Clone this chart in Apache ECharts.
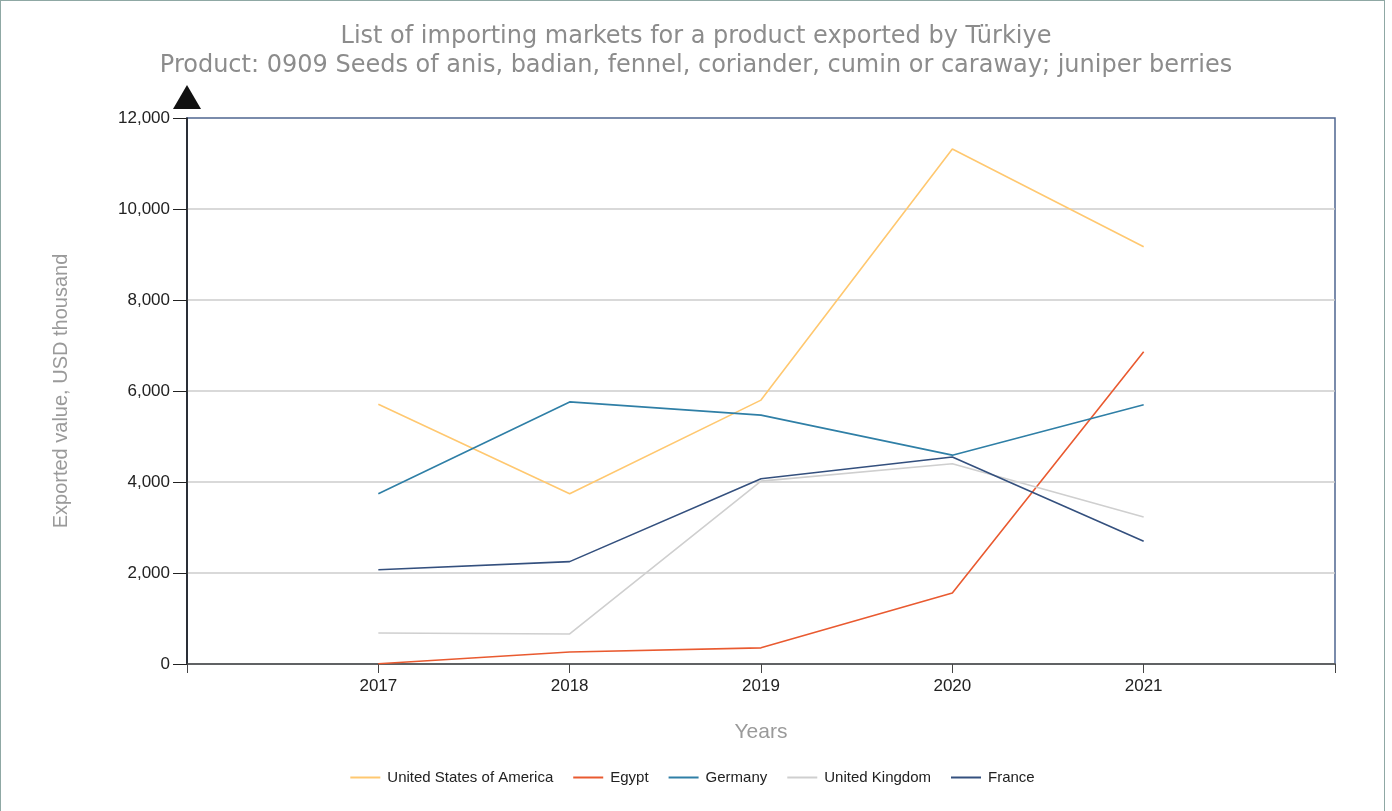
<!DOCTYPE html>
<html>
<head>
<meta charset="utf-8">
<script src="https://cdn.jsdelivr.net/npm/echarts@6/dist/echarts.min.js"></script>
<style>
    html, body { margin: 0; padding: 0; background: #fff; }
    #chart {
        width: 1385px;
        height: 812px;
        border-left: 1px solid #8fa8a4;
        border-right: 1px solid #8fa8a4;
        border-top: 1px solid #8fa8a4;
        box-sizing: border-box;
    }
</style>
</head>
<body>
<div id="chart"></div>
<script>
// years on the x axis
const years = [2017, 2018, 2019, 2020, 2021]

// exported value, USD thousand
const usa = [5710, 3740, 5800, 11320, 9170]
const egypt = [5, 265, 355, 1560, 6860]
const germany = [3740, 5760, 5470, 4590, 5700]
const uk = [680, 660, 4020, 4400, 3230]
const france = [2070, 2250, 4070, 4550, 2700]

const seriesNames = ['United States of America', 'Egypt', 'Germany', 'United Kingdom', 'France']
const seriesColors = ['#ffc870', '#e95a30', '#2f7fa6', '#cfcfcf', '#34507e']

function pairs (vals) {
    return years.map(function (y, i) { return [y, vals[i]] })
}

let chart = echarts.init(document.getElementById('chart'))
let allData = [usa, egypt, germany, uk, france]

chart.setOption({
    animation: false,
    color: seriesColors,
    title: {
        text: 'List of importing markets for a product exported by Türkiye\nProduct: 0909 Seeds of anis, badian, fennel, coriander, cumin or caraway; juniper berries',
        left: 690,
        top: 16,
        textAlign: 'center',
        textStyle: {
            fontFamily: 'DejaVu Sans',
            fontSize: 24,
            fontWeight: 'normal',
            color: '#8c8c8c',
            lineHeight: 29
        }
    },
    legend: {
        bottom: 22,
        left: 'center',
        itemWidth: 30,
        itemHeight: 2,
        itemGap: 20,
        icon: 'rect',
        textStyle: {
            fontFamily: 'Liberation Sans',
            fontSize: 15,
            color: '#222',
            padding: [0, 0, 0, 2]
        },
        data: seriesNames
    },
    grid: {
        left: 186,
        right: 49,
        top: 117,
        bottom: 148,
        show: true,
        borderColor: '#4f6690',
        borderWidth: 1.5
    },
    xAxis: {
        type: 'value',
        min: 2016,
        max: 2022,
        interval: 1,
        name: 'Years',
        nameLocation: 'middle',
        nameGap: 58,
        nameTextStyle: {
            fontFamily: 'Liberation Sans',
            fontSize: 21,
            color: '#9a9a9a'
        },
        axisLine: { lineStyle: { color: '#444', width: 1.5 } },
        axisTick: { inside: false, length: 9, lineStyle: { color: '#444' } },
        axisLabel: {
            fontFamily: 'Liberation Sans',
            fontSize: 17,
            color: '#222',
            margin: 14,
            formatter: function (v) {
                return (v === 2016 || v === 2022) ? '' : String(v)
            }
        },
        splitLine: { show: false }
    },
    yAxis: {
        type: 'value',
        min: 0,
        max: 12000,
        interval: 2000,
        name: 'Exported value, USD thousand',
        nameLocation: 'middle',
        nameGap: 116,
        nameTextStyle: {
            fontFamily: 'Liberation Sans',
            fontSize: 20,
            color: '#9a9a9a'
        },
        axisLine: {
            show: true,
            symbol: ['none', 'triangle'],
            symbolSize: [28, 24],
            symbolOffset: [0, 21],
            lineStyle: { color: '#111', width: 1.5 }
        },
        axisTick: { show: true, length: 14, lineStyle: { color: '#222' } },
        axisLabel: {
            fontFamily: 'Liberation Sans',
            fontSize: 17,
            color: '#222',
            margin: 17,
            formatter: function (v) {
                return v.toLocaleString('en-US')
            }
        },
        splitLine: { showMaxLine: false, lineStyle: { color: '#cccccc', width: 1.5 } }
    },
    series: seriesNames.map(function (name, i) {
        return {
            name: name,
            type: 'line',
            showSymbol: false,
            symbol: 'none',
            lineStyle: { width: 1.6 },
            data: pairs(allData[i])
        }
    })
})
</script>
</body>
</html>
